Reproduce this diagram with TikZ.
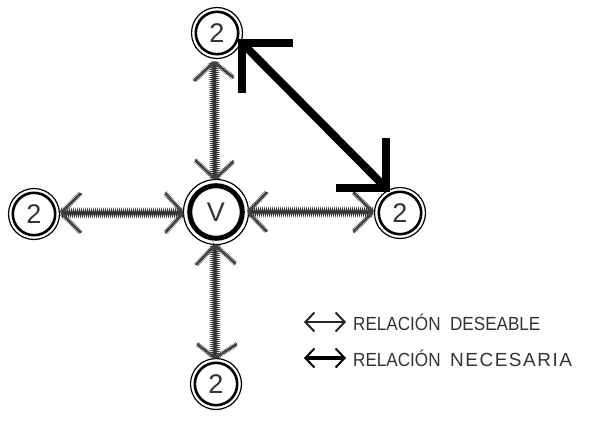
\documentclass[tikz,border=0pt]{standalone}
\usepackage{fontspec}
\setmainfont{Liberation Sans}
\newfontfamily\legfont[FakeStretch=0.9]{Liberation Sans}
\newfontfamily\legfontwide[FakeStretch=1.0, LetterSpace=8]{Liberation Sans}
\usetikzlibrary{decorations.pathmorphing,calc,arrows.meta}
\newcommand\hatchhead[3]{%
  \draw[hatcharm] ($(#1)+(#2)$) -- (#1) -- ($(#1)+(#3)$);}
\begin{document}
\begin{tikzpicture}[x=1pt,y=-1pt,
  ring/.style={circle, draw=black, line width=1.2pt, minimum size=51pt, inner sep=0pt,
    font=\fontsize{27}{27}\selectfont, text=black!80},
  innerring/.style={line width=2.6pt},
  hatch/.style={black!80, line width=1.1pt, decorate,
    decoration={zigzag, segment length=2pt, amplitude=2.7pt}},
  hatcharm/.style={black!75, line width=0.8pt, decorate,
    decoration={zigzag, segment length=1.5pt, amplitude=1.3pt}},
  bigarrow/.style={black, line width=8pt, miter limit=20},
  legtext/.style={anchor=west, font=\legfont\fontsize{19}{19}\selectfont, text=black!80, inner sep=0pt},
  legarrow/.style={black!85, {Straight Barb[length=9pt,width=19pt,line width=2pt]}-{Straight Barb[length=9pt,width=19pt,line width=2pt]}}
]
\useasboundingbox (0,0) rectangle (597,423);

% nodes
\node[ring] (t) at (217,33) {2};
\node[ring] (l) at (34,214) {2};
\node[ring] (r) at (400,213) {2};
\node[ring] (b) at (216,384) {2};
\node[ring, minimum size=65pt] (v) at (216,212) {V};
\draw[innerring] (t.center) circle[radius=21.2];
\draw[innerring] (l.center) circle[radius=21.2];
\draw[innerring] (r.center) circle[radius=21.2];
\draw[innerring] (b.center) circle[radius=21.2];
\draw[line width=5pt] (v.center) circle[radius=26.3];

% hatched arrow tips
\coordinate (tA) at (214,62);  \coordinate (tB) at (215,179);
\coordinate (bA) at (215,245); \coordinate (bB) at (215,358);
\coordinate (rA) at (248,212); \coordinate (rB) at (373,212);
\coordinate (lA) at (61,213);  \coordinate (lB) at (183,213);

\draw[hatch] (tA) -- (tB);
\draw[hatch] (bA) -- (bB);
\draw[hatch] (rA) -- (rB);
\draw[hatch] (lA) -- (lB);

\hatchhead{tA}{-20,19}{20,16}
\hatchhead{tB}{-20,-19}{19,-18}
\hatchhead{bA}{-19,20}{21,19}
\hatchhead{bB}{-18,-14}{22,-14}
\hatchhead{rA}{19,-20}{19,20}
\hatchhead{rB}{-20,-20}{-20,20}
\hatchhead{lA}{20,-20}{20,20}
\hatchhead{lB}{-18,-20}{-18,20}

% big black double arrow
\coordinate (BA) at (242,43);
\coordinate (BB) at (386,188);
\draw[bigarrow] (BA) -- (BB);
\draw[bigarrow] ($(BA)+(51,0)$) -- (BA) -- ($(BA)+(0,50)$);
\draw[bigarrow] ($(BB)+(0,-50)$) -- (BB) -- ($(BB)+(-50,0)$);

% legend
\coordinate (L1a) at (304,322); \coordinate (L1b) at (346,322);
\coordinate (L2a) at (304,358); \coordinate (L2b) at (346,358);
\draw[legarrow, line width=2pt] (L1a) -- (L1b);
\draw[legarrow, line width=3.2pt, black] (L2a) -- (L2b);
\node[legtext] (d1) at (353,322) {RELACIÓN\ \ DESEABLE};
\node[legtext] (d2) at (353,358) {RELACIÓN\ \ {\legfontwide NECESARIA}};
\end{tikzpicture}
\end{document}
